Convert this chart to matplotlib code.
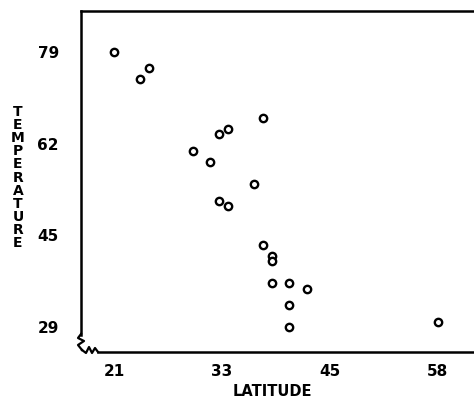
import matplotlib
matplotlib.use("Agg")
import matplotlib.pyplot as plt
from matplotlib.lines import Line2D
import numpy as np

# latitude vs temperature
latitude = [21, 25, 24, 38, 34, 33, 30, 32, 37, 33, 34,
            38, 39, 39, 39, 41, 43, 41, 41, 58]
temperature = [79, 76, 74, 67, 65, 64, 61, 59, 55, 52, 51,
               44, 42, 41, 37, 37, 36, 33, 29, 30]

# ticks are min..max split in 3, labels truncated
x_ticks = np.linspace(min(latitude), max(latitude), 4)
y_ticks = np.linspace(min(temperature), max(temperature), 4)

W, H = 474, 401
fig = plt.figure(figsize=(W / 100, H / 100), dpi=100)
ax = fig.add_axes([81 / W, 1 - 352 / H, 1 - 81 / W + 0.01, (352 - 11) / H])

ax.plot(latitude, temperature, 'o', markersize=5.3, markerfacecolor='white',
        markeredgecolor='black', markeredgewidth=1.7, linestyle='none')

ax.set_xlim(17.2, 62.7)
ax.set_ylim(24.5, 86.4)

ax.set_xticks(x_ticks)
ax.set_xticklabels([str(int(v)) for v in x_ticks])
ax.set_yticks(y_ticks)
ax.set_yticklabels([str(int(v)) for v in y_ticks])
ax.tick_params(length=0, labelsize=11)
for lab in ax.get_xticklabels() + ax.get_yticklabels():
    lab.set_fontweight('bold')
ax.tick_params(axis='y', pad=16)
ax.tick_params(axis='x', pad=9)

for s in ax.spines.values():
    s.set_linewidth(1.8)
ax.spines['right'].set_visible(False)
# leave room for the axis break at the corner
ax.spines['left'].set_bounds(27.5, 86.4)
ax.spines['bottom'].set_bounds(19.1, 62.7)

# break marks (figure pixels)
def px(points):
    xs = [p[0] / W for p in points]
    ys = [1 - p[1] / H for p in points]
    return xs, ys

left_zz = [(81, 334), (78, 338), (84, 341), (78, 345), (82, 350)]
bottom_zz = [(82, 350), (86, 353), (89, 347), (92, 353), (95, 348), (98, 352)]
for zz in (left_zz, bottom_zz):
    xs, ys = px(zz)
    fig.add_artist(Line2D(xs, ys, color='black', linewidth=1.6,
                          transform=fig.transFigure))

fig.text(272 / W, 1 - 391 / H, 'LATITUDE', fontsize=10.5, fontweight='bold',
         ha='center', va='center')

# vertical stacked letters for the y label
word = 'TEMPERATURE'
top, bottom = 112, 243
step = (bottom - top) / (len(word) - 1)
for i, ch in enumerate(word):
    fig.text(18 / W, 1 - (top + i * step) / H, ch, fontsize=10,
             fontweight='bold', ha='center', va='center')

fig.savefig('out.png', dpi=100)
